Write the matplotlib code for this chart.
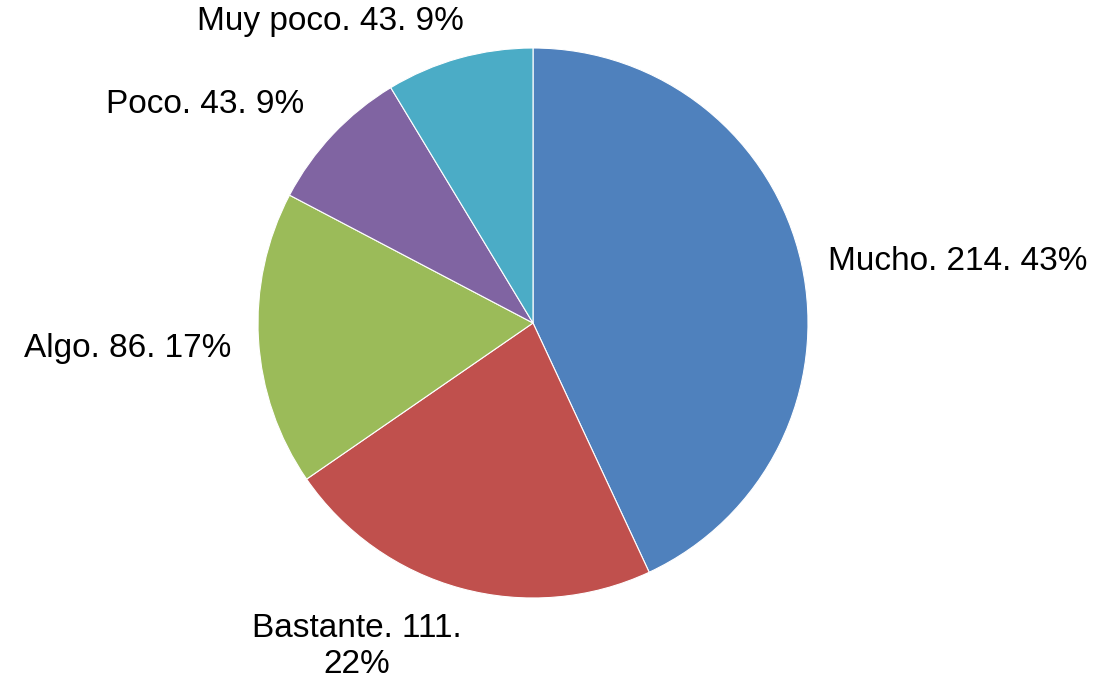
import numpy as np
import matplotlib.pyplot as plt

plt.rcParams['font.family'] = ['Liberation Sans', 'DejaVu Sans']

categories = ['Mucho', 'Bastante', 'Algo', 'Poco', 'Muy poco']
values = [214, 111, 86, 43, 43]
percents = ['43%', '22%', '17%', '9%', '9%']
colors = ['#4F81BD', '#C0504D', '#9BBB59', '#8064A2', '#4BACC6']

fig = plt.figure(figsize=(11.01, 6.81), dpi=100)
ax = fig.add_axes([0, 0, 1, 1])

wedges, _ = ax.pie(values, colors=colors, startangle=90, counterclock=False,
                   radius=1.0, wedgeprops=dict(edgecolor='white', linewidth=0.8))

texts = [f'{c}. {v}. {p}' for c, v, p in zip(categories, values, percents)]
texts[1] = 'Bastante. 111.\n22%'

# label anchor points (pie radius = 1) and horizontal alignment
label_pos = [(1.073, 0.222), (-0.64, -1.175), (-1.095, -0.091), (-1.193, 0.793), (-0.738, 1.095)]
label_ha = ['left', 'center', 'right', 'center', 'center']

for txt, (x, y), ha in zip(texts, label_pos, label_ha):
    ax.text(x, y, txt, ha=ha, va='center', fontsize=24, color='black',
            linespacing=1.2, multialignment='center')

ax.set_xlim(-533 / 275, (1101 - 533) / 275)
ax.set_ylim(-(681 - 323) / 275, 323 / 275)
ax.set_aspect('equal')
ax.axis('off')

fig.savefig('out.png', dpi=100)
